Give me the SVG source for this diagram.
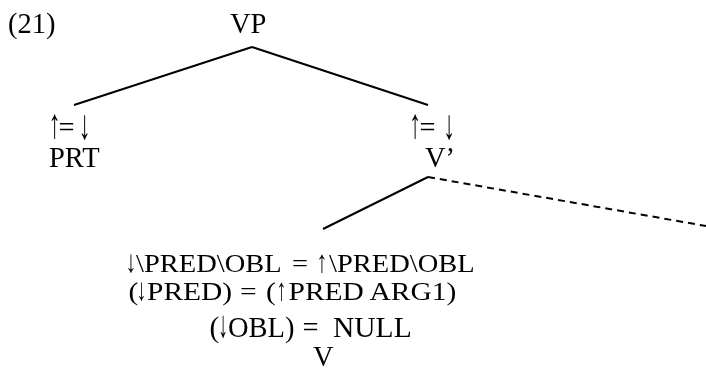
<svg xmlns="http://www.w3.org/2000/svg" width="706" height="369" viewBox="0 0 706 369">
<style>
text{font-family:"Liberation Serif","Times New Roman",serif;font-size:28.5px;fill:#000}
text.l{font-size:29.5px}
text.ar{font-size:42px;text-anchor:middle}
text.ars{font-size:36px;text-anchor:middle}
text.arm{font-size:38px;text-anchor:middle}
.e{stroke:#000;stroke-width:2;fill:none}
.d{stroke-dasharray:7 5}
</style>
<rect width="706" height="369" fill="#fff"/>
<g opacity="0.999">
<text x="8" y="33">(21)</text>
<g id="connectors">
<line class="e" x1="252" y1="47" x2="74" y2="105"/>
<line class="e" x1="252" y1="47" x2="428" y2="105"/>
<line class="e" x1="428" y1="177" x2="323" y2="229"/>
<line class="e d" x1="428" y1="177" x2="706" y2="226"/>
</g>
<g id="VP"><text x="230" y="33">VP</text></g>
<g id="PRT">
<text class="ar" x="54.5" y="138" textLength="12" lengthAdjust="spacingAndGlyphs">↑</text>
<text x="58.5" y="137">=</text>
<text class="ar" x="84.5" y="139" textLength="12" lengthAdjust="spacingAndGlyphs">↓</text>
<text x="49" y="167">PRT</text>
</g>
<g id="Vbar">
<text class="ar" x="415" y="138" textLength="12" lengthAdjust="spacingAndGlyphs">↑</text>
<text x="419.5" y="137">=</text>
<text class="ar" x="449" y="139" textLength="12" lengthAdjust="spacingAndGlyphs">↓</text>
<text x="425" y="167">V’</text>
</g>
<g id="V">
<g transform="matrix(1,0,0,0.87,0,35.36)">
<text class="ars" x="131" y="272" textLength="11" lengthAdjust="spacingAndGlyphs">↓</text>
<text y="272"><tspan x="136">\PRED\OBL</tspan><tspan x="292">=</tspan></text>
<text class="ars" x="322" y="272" textLength="11" lengthAdjust="spacingAndGlyphs">↑</text>
<text x="329" y="272">\PRED\OBL</text>
</g>
<g transform="matrix(1,0,0,0.87,0,39)">
<text class="l" x="128.5" y="300">(</text>
<text class="ars" x="141.5" y="300" textLength="10" lengthAdjust="spacingAndGlyphs">↓</text>
<text class="l" y="300"><tspan x="147">PRED)</tspan><tspan x="240">=</tspan><tspan x="266">(</tspan></text>
<text class="ars" x="281.5" y="300" textLength="10" lengthAdjust="spacingAndGlyphs">↑</text>
<text class="l" x="288.5" y="300">PRED ARG1)</text>
</g>
<text class="l" x="209.5" y="337">(</text>
<text class="arm" x="223" y="337" textLength="10" lengthAdjust="spacingAndGlyphs">↓</text>
<text y="337"><tspan x="228">OBL)</tspan><tspan x="302.5">=</tspan></text>
<text class="l" x="333" y="337">NULL</text>
<text x="313" y="366">V</text>
</g>
</g>
</svg>
